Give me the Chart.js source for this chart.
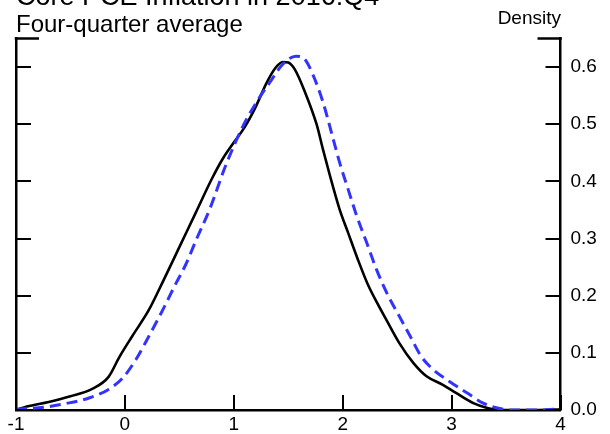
<!DOCTYPE html>
<html>
<head>
<meta charset="utf-8">
<script src="https://cdn.jsdelivr.net/npm/chart.js@4/dist/chart.umd.min.js"></script>
<style>
  html, body { margin: 0; padding: 0; background: #fff; }
  canvas { display: block; }
</style>
</head>
<body>
<canvas id="c" width="610" height="434"></canvas>
<script>
// Inflation grid (percent) and estimated density for the current forecast (solid)
const currentGrid = [-1.0, -0.9, -0.7, -0.5, -0.3, -0.15, -0.05, 0.07, 0.22, 0.35, 0.5, 0.65, 0.8, 0.9, 1.0, 1.1, 1.2, 1.3, 1.38, 1.45, 1.5, 1.56, 1.65, 1.76, 1.82, 1.88, 1.97, 2.05, 2.14, 2.23, 2.32, 2.4, 2.52, 2.65, 2.77, 2.92, 3.04, 3.2, 3.32, 3.45, 3.6, 3.8, 4.0];
const currentDensity = [0.0, 0.006, 0.014, 0.024, 0.037, 0.058, 0.093, 0.13, 0.175, 0.225, 0.285, 0.345, 0.405, 0.44, 0.468, 0.495, 0.53, 0.572, 0.598, 0.609, 0.608, 0.596, 0.558, 0.5, 0.455, 0.412, 0.352, 0.31, 0.263, 0.22, 0.186, 0.158, 0.117, 0.082, 0.059, 0.044, 0.030, 0.012, 0.004, 0.0, 0.0, 0.0, 0.001];

// Previous forecast (dashed)
const previousGrid = [-1.0, -0.7, -0.55, -0.33, -0.15, -0.02, 0.1, 0.22, 0.35, 0.47, 0.56, 0.66, 0.78, 0.93, 1.08, 1.2, 1.33, 1.45, 1.57, 1.65, 1.73, 1.82, 1.91, 1.97, 2.05, 2.13, 2.22, 2.31, 2.42, 2.52, 2.62, 2.72, 2.83, 2.98, 3.14, 3.29, 3.41, 3.55, 3.8, 4.0];
const previousDensity = [0.001, 0.006, 0.011, 0.021, 0.036, 0.056, 0.088, 0.129, 0.176, 0.222, 0.255, 0.3, 0.352, 0.43, 0.495, 0.536, 0.573, 0.605, 0.619, 0.614, 0.585, 0.538, 0.476, 0.434, 0.386, 0.339, 0.293, 0.246, 0.199, 0.164, 0.129, 0.094, 0.071, 0.050, 0.030, 0.012, 0.004, 0.0, 0.0, 0.002];

const xTicks = [-1, 0, 1, 2, 3, 4];
const yTicks = [0.0, 0.1, 0.2, 0.3, 0.4, 0.5, 0.6];
const yMax = 0.65;

const titleText = 'Core PCE Inflation in 2016:Q4';
const subtitleText = 'Four-quarter average';
const unitText = 'Density';

const FONT = '"Liberation Sans", Arial, Helvetica, sans-serif';

const toPoints = (xs, ys) => xs.map((x, i) => ({ x: x, y: ys[i] }));

// Inward tick marks, top corner caps and header text
const frameDecor = {
  id: 'frameDecor',
  afterDraw(chart) {
    const { ctx, chartArea: a, scales } = chart;
    const seg = (x1, y1, x2, y2) => { ctx.beginPath(); ctx.moveTo(x1, y1); ctx.lineTo(x2, y2); ctx.stroke(); };
    ctx.save();
    ctx.strokeStyle = '#000';
    ctx.lineWidth = 2;
    for (const v of yTicks) {
      const py = Math.round(scales.y.getPixelForValue(v));
      seg(a.left, py, a.left + 15, py);
      seg(a.right - 15, py, a.right, py);
    }
    for (const v of xTicks) {
      const px = Math.round(scales.x.getPixelForValue(v));
      seg(px, a.bottom, px, a.bottom - 15);
    }
    const topY = scales.y.getPixelForValue(yMax);
    ctx.lineWidth = 2.5;
    seg(a.left - 1.25, topY, a.left + 23, topY);
    seg(a.right - 23, topY, a.right + 1.25, topY);

    ctx.fillStyle = '#000';
    ctx.textBaseline = 'alphabetic';
    ctx.textAlign = 'left';
    ctx.font = '27px ' + FONT;
    ctx.fillText(titleText, 16, 5);
    ctx.font = '24px ' + FONT;
    ctx.fillText(subtitleText, 16, 31.5);
    ctx.textAlign = 'right';
    ctx.font = '19px ' + FONT;
    ctx.fillText(unitText, 561, 23.5);
    ctx.restore();
  }
};

new Chart(document.getElementById('c'), {
  type: 'line',
  data: {
    datasets: [
      {
        data: toPoints(previousGrid, previousDensity),
        borderColor: '#3333ff',
        borderWidth: 3,
        borderDash: [11, 6],
        pointRadius: 0,
        cubicInterpolationMode: 'monotone',
        fill: false,
        yAxisID: 'y'
      },
      {
        data: toPoints(currentGrid, currentDensity),
        borderColor: '#000000',
        borderWidth: 2.6,
        pointRadius: 0,
        cubicInterpolationMode: 'monotone',
        fill: false,
        yAxisID: 'y'
      }
    ]
  },
  options: {
    responsive: false,
    devicePixelRatio: 1,
    animation: false,
    events: [],
    layout: { padding: { top: 38.5, left: 0, right: 0, bottom: 0 } },
    plugins: { legend: { display: false }, tooltip: { enabled: false }, title: { display: false } },
    scales: {
      x: {
        type: 'linear',
        position: 'bottom',
        min: -1,
        max: 4,
        afterBuildTicks: (s) => { s.ticks = xTicks.map(v => ({ value: v })); },
        ticks: { color: '#000', font: { family: FONT, size: 19 }, padding: 3, maxRotation: 0 },
        grid: { display: false, drawTicks: false },
        border: { display: true, color: '#000', width: 2.5 },
        afterFit: (s) => { s.height = 24; }
      },
      y: {
        type: 'linear',
        position: 'right',
        min: 0,
        max: yMax,
        afterBuildTicks: (s) => { s.ticks = yTicks.map(v => ({ value: v })); },
        ticks: { color: '#000', font: { family: FONT, size: 19 }, padding: 10, callback: (v) => v.toFixed(1) },
        grid: { display: false, drawTicks: false },
        border: { display: true, color: '#000', width: 2.5 },
        afterFit: (s) => { s.width = 49.5; }
      },
      yLeft: {
        type: 'linear',
        position: 'left',
        min: 0,
        max: yMax,
        ticks: { display: false },
        grid: { display: false, drawTicks: false },
        border: { display: true, color: '#000', width: 2.5 },
        afterFit: (s) => { s.width = 16; }
      }
    }
  },
  plugins: [frameDecor]
});
</script>
</body>
</html>
